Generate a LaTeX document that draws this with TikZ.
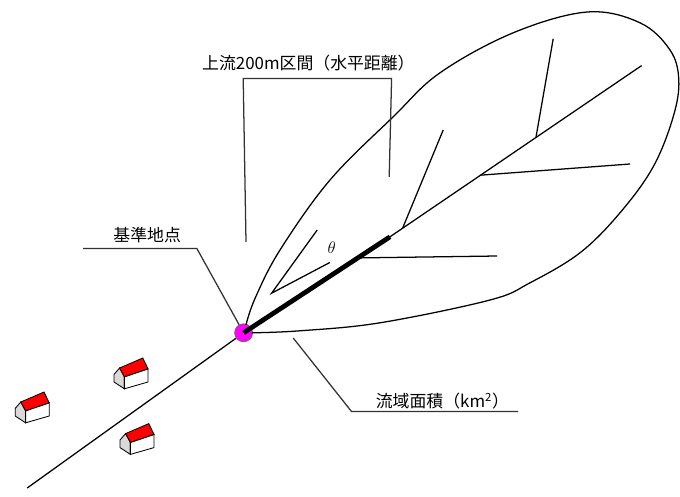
\documentclass[tikz,border=0pt]{standalone}
\usepackage{fontspec}
\newfontfamily\jp{Noto Sans CJK JP}
\usetikzlibrary{calc}
\definecolor{outletpink}{RGB}{255,0,255}
\definecolor{roofred}{RGB}{255,0,0}
\tikzset{
  jptext/.style={font=\jp\fontsize{12}{14}\selectfont,inner sep=0pt},
  house/.pic={
    \filldraw[fill=black!15](0.07,-0.73)--(0.07,-0.54)--(0.21,-0.38)--(0.33,-0.6)--(0.33,-0.9)--cycle;
    \filldraw[fill=white](0.33,-0.6)--(0.92,-0.4)--(0.92,-0.73)--(0.33,-0.9)--cycle;
    \filldraw[fill=roofred](0.21,-0.38)--(0.79,-0.13)--(0.92,-0.4)--(0.33,-0.6)--cycle;
  }
}
\begin{document}
\begin{tikzpicture}[line width=0.9pt]
\useasboundingbox(0,0)rectangle(17,12.4);
\node[circle,draw=black!60,line width=0.5pt,fill=outletpink,minimum size=0.45cm,inner sep=0pt](P)at(6.09,4.08){};
\coordinate(T)at(9.75,6.48);
\coordinate(M)at(16.04,10.76);
\coordinate(R)at(0.68,0.2);
% catchment outline
\draw plot[smooth,tension=0.6]coordinates{(6.15,4.28)(6.38,4.95)(7.0,6.15)(8.25,7.9)(9.83,9.48)(11.0,10.58)(12.83,11.58)(14.68,12.1)(16.0,11.83)(16.75,11.15)(16.97,10.4)(16.83,9.48)(16.33,8.23)(15.5,7.08)(14.5,6.08)(13.25,5.33)(12.25,4.9)(9.5,4.33)(7.5,4.13)(6.3,4.08)};
% channels
\draw(T)--(M);
\foreach \t/\x/\y in {0.05/11.08/9.15,0.36/15.75/8.30,0.58/13.83/11.43}
  \draw($(T)!\t!(M)$)--(\x,\y);
\draw($(P)!0.78!(T)$)--(12.43,6.0);
\draw(R)--(P);
\draw[line width=3.4pt](P.center)--(T);
% angle
\coordinate(V)at(6.79,5.07);
\coordinate(A1)at(7.93,6.65);
\coordinate(A2)at(8.25,5.84);
\draw(A1)--(V)--(A2);
\node[font=\large](th)at(8.29,6.22){$\theta$};
% labels
\node[jptext](base)at(3.68,6.53){基準地点};
\coordinate(b1)at(2.08,6.19);
\coordinate(b2)at(4.92,6.19);
\draw[black!80](b1)--(b2)--(P);
\node[jptext](up)at(7.71,10.82){上流200m区間（水平距離）};
\coordinate(u1)at(6.15,6.35);
\coordinate(u2)at(6.08,10.44);
\coordinate(u3)at(9.79,10.44);
\coordinate(u4)at(9.73,7.98);
\draw[black!80](u1)--(u2)--(u3)--(u4);
\node[jptext](area)at(11.06,2.38){流域面積（km\textsuperscript{2}）};
\coordinate(a1)at(7.33,3.95);
\coordinate(a2)at(8.79,2.11);
\coordinate(a3)at(12.95,2.11);
\draw[black!80](a1)--(a2)--(a3);
% houses
\begin{scope}[line width=0.6pt]
\pic at(0.31,2.73){house};
\pic at(2.78,3.58){house};
\pic at(2.93,1.94){house};
\end{scope}
\end{tikzpicture}
\end{document}
